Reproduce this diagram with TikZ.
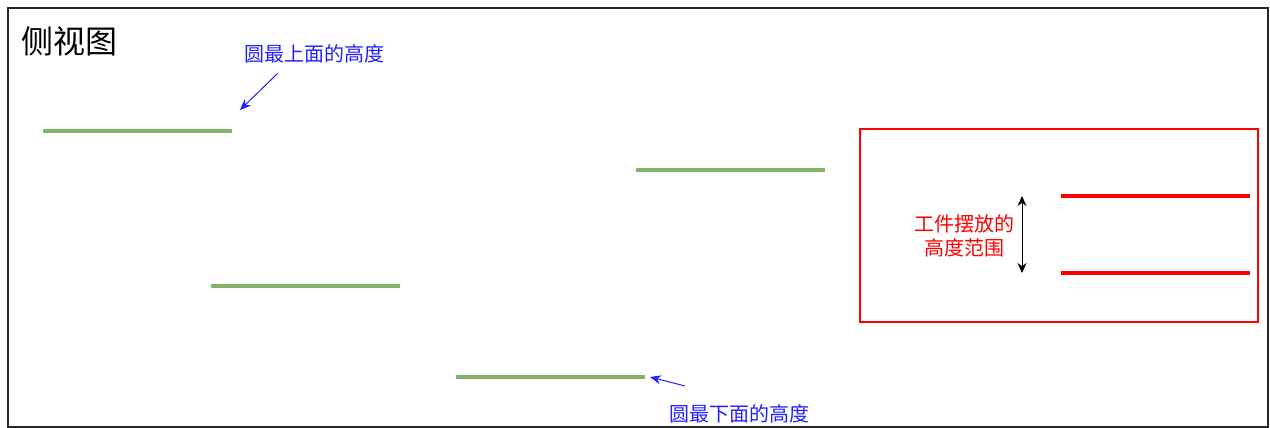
\documentclass[tikz,border=0pt]{standalone}
\usepackage{fontspec}
\setmainfont{Noto Sans CJK SC}
\usetikzlibrary{arrows.meta}
\definecolor{dgreen}{HTML}{82B366}
\definecolor{lblue}{HTML}{1F1FFF}
\definecolor{lred}{HTML}{FF0000}
\tikzset{
  bar/.style={draw=dgreen,line width=4pt},
  redbar/.style={draw=lred,line width=4.5pt},
  bluelbl/.style={text=lblue,font=\fontsize{20}{24}\selectfont,inner sep=0pt},
  redlbl/.style={text=lred,font=\fontsize{20}{24}\selectfont,align=center,inner sep=0pt},
  bluearrow/.style={draw=lblue,line width=1pt,-{Stealth[length=11pt,width=9pt]}},
}
\begin{document}
\begin{tikzpicture}[x=1pt,y=-1pt]
\useasboundingbox (0,0) rectangle (1270,428);
\draw[line width=1.5pt,draw=black!85] (8,8) rectangle (1268,427);
\node[anchor=west,font=\fontsize{32}{36}\selectfont,inner sep=0pt] (title) at (21,41) {侧视图};
% green bars
\coordinate (g1a) at (43,131); \coordinate (g1b) at (232,131);
\coordinate (g2a) at (636,170); \coordinate (g2b) at (825,170);
\coordinate (g3a) at (211,286); \coordinate (g3b) at (400,286);
\coordinate (g4a) at (456,377); \coordinate (g4b) at (645,377);
\draw[bar] (g1a) -- (g1b);
\draw[bar] (g2a) -- (g2b);
\draw[bar] (g3a) -- (g3b);
\draw[bar] (g4a) -- (g4b);
% labels with arrows
\node[bluelbl] (top) at (314,54) {圆最上面的高度};
\coordinate (t1) at (278,73); \coordinate (t2) at (240,110);
\draw[bluearrow] (t1) -- (t2);
\node[bluelbl] (bot) at (739,414) {圆最下面的高度};
\coordinate (b1) at (685,386); \coordinate (b2) at (650,377);
\draw[bluearrow] (b1) -- (b2);
% red box
\node[draw=lred,line width=1.5pt,minimum width=398pt,minimum height=193pt,inner sep=0pt] (rbox) at (1059,225.5) {};
\coordinate (r1a) at (1061,196); \coordinate (r1b) at (1250,196);
\coordinate (r2a) at (1061,273); \coordinate (r2b) at (1250,273);
\draw[redbar] (r1a) -- (r1b);
\draw[redbar] (r2a) -- (r2b);
\coordinate (da) at (1022,196); \coordinate (db) at (1022,273);
\draw[line width=1pt,{Stealth[length=10pt,width=9pt]}-{Stealth[length=10pt,width=9pt]}] (da) -- (db);
\node[redlbl] (range) at (964,235.5) {工件摆放的\\高度范围};
\end{tikzpicture}
\end{document}
